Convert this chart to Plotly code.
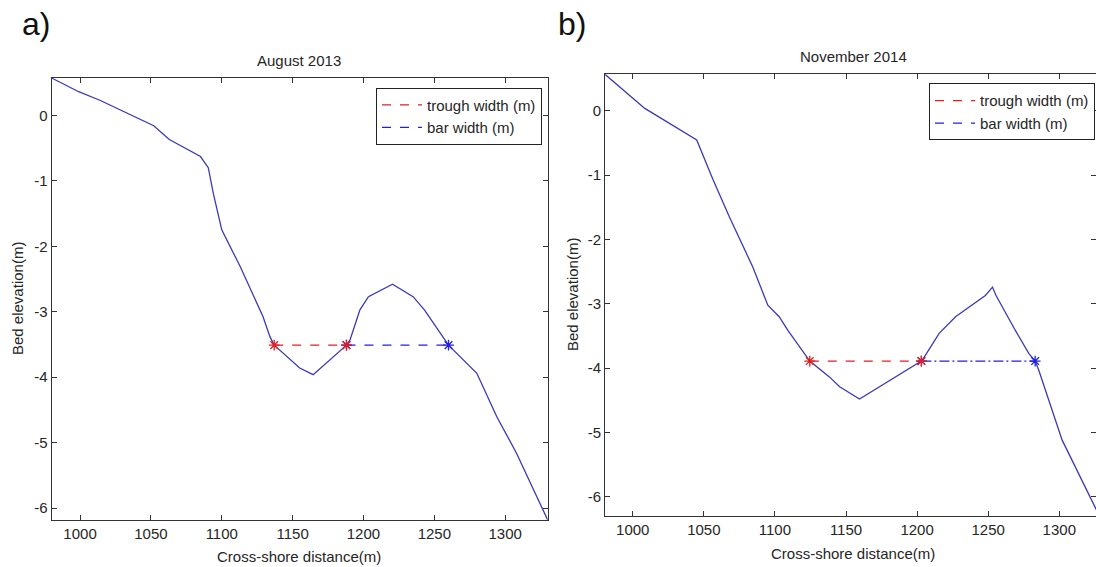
import plotly.graph_objects as go

# ---------------- data ----------------
# Panel a) August 2013 profile
dist_a = [980, 999, 1014, 1039, 1052, 1063, 1076, 1085, 1090.5, 1094, 1100, 1103.5, 1113,
          1129, 1134, 1137, 1155, 1164.5, 1188, 1190.5, 1197.5, 1203.5, 1220.5, 1235, 1243,
          1260, 1280, 1294, 1308, 1330]
elev_a = [0.57, 0.36, 0.23, -0.02, -0.16, -0.37, -0.53, -0.63, -0.80, -1.19, -1.75, -1.90, -2.31,
          -3.07, -3.38, -3.51, -3.86, -3.96, -3.51, -3.43, -2.97, -2.77, -2.58, -2.77, -2.97,
          -3.51, -3.94, -4.60, -5.16, -6.18]
trough_a_x = [1137, 1188]
bar_a_x = [1188, 1260]
level_a = -3.51

# Panel b) November 2014 profile
dist_b = [980.5, 1008.5, 1045, 1056.5, 1068, 1084.5, 1095, 1103, 1109, 1124.5, 1138.5, 1145.5,
          1159.5, 1197, 1203, 1205, 1215.5, 1227, 1248, 1253, 1255.5, 1269, 1278.5, 1283,
          1285.5, 1302, 1309, 1326, 1330]
elev_b = [0.57, 0.04, -0.45, -1.07, -1.65, -2.43, -3.02, -3.20, -3.41, -3.89, -4.14, -4.29,
          -4.48, -3.98, -3.89, -3.83, -3.46, -3.20, -2.87, -2.74, -2.87, -3.41, -3.77, -3.89,
          -4.03, -5.12, -5.44, -6.20, -6.30]
trough_b_x = [1124.5, 1203]
bar_b_x = [1203, 1283]
level_b = -3.89

x_ticks = [1000, 1050, 1100, 1150, 1200, 1250, 1300]
x_tick_labels = ["1000", "1050", "1100", "1150", "1200", "1250", "1300"]
y_ticks = [0, -1, -2, -3, -4, -5, -6]
y_tick_labels = ["0", "-1", "-2", "-3", "-4", "-5", "-6"]

titles = ["August 2013", "November 2014"]
panel_labels = ["a)", "b)"]
x_title = "Cross-shore distance(m)"
y_title = "Bed elevation(m)"
legend_names = ["trough width (m)", "bar width (m)"]

# ---------------- style ----------------
W, H = 1096, 567
FONT = "Liberation Sans, Arial, sans-serif"
TXT = "#262626"
PROFILE = "#3a3ab4"
RED = "#e02020"
BLUE = "#2020e0"
FS = 15

fig = go.Figure()

def add_panel(n, dist, elev, trough_x, bar_x, level, legend_id, bar_dash):
    xa = "x" if n == 1 else "x2"
    ya = "y" if n == 1 else "y2"
    fig.add_trace(go.Scatter(x=dist, y=elev, mode="lines", xaxis=xa, yaxis=ya,
                             line=dict(color=PROFILE, width=1.3), showlegend=False,
                             hoverinfo="skip"))
    fig.add_trace(go.Scatter(x=trough_x, y=[level, level], mode="lines", xaxis=xa, yaxis=ya,
                             line=dict(color=RED, width=1.3, dash="dash"),
                             name=legend_names[0], legend=legend_id))
    fig.add_trace(go.Scatter(x=bar_x, y=[level, level], mode="lines", xaxis=xa, yaxis=ya,
                             line=dict(color=BLUE, width=1.3, dash=bar_dash),
                             showlegend=False))
    # legend entry for the bar width (plain dashed sample, as in the original)
    fig.add_trace(go.Scatter(x=[None], y=[None], mode="lines", xaxis=xa, yaxis=ya,
                             line=dict(color=BLUE, width=1.3, dash="dash"),
                             name=legend_names[1], legend=legend_id))
    fig.add_trace(go.Scatter(x=bar_x, y=[level, level], mode="markers", xaxis=xa, yaxis=ya,
                             marker=dict(symbol="asterisk-open", size=9, color=BLUE,
                                         line=dict(color=BLUE, width=1.3)),
                             showlegend=False))
    fig.add_trace(go.Scatter(x=trough_x, y=[level, level], mode="markers", xaxis=xa, yaxis=ya,
                             marker=dict(symbol="asterisk-open", size=9, color=RED,
                                         line=dict(color=RED, width=1.3)),
                             showlegend=False))

add_panel(1, dist_a, elev_a, trough_a_x, bar_a_x, level_a, "legend", "dash")
add_panel(2, dist_b, elev_b, trough_b_x, bar_b_x, level_b, "legend2", "10px,3px,2px,3px")

axis_common = dict(showline=True, linecolor="#333333", linewidth=1, mirror="ticks",
                   ticks="inside", ticklen=5, tickcolor="#333333", showgrid=False,
                   zeroline=False, tickfont=dict(family=FONT, size=FS, color=TXT))

# pixel geometry -> domains
def xd(p0, p1):
    return [p0 / W, p1 / W]

def yd(top, bottom):
    return [(H - bottom) / H, (H - top) / H]

fig.update_layout(
    width=W, height=H,
    margin=dict(l=0, r=0, t=0, b=0, pad=0),
    paper_bgcolor="white", plot_bgcolor="white",
    font=dict(family=FONT, size=FS, color=TXT),
    xaxis=dict(domain=xd(51.7, 547.7), range=[980, 1330], tickvals=x_ticks,
               ticktext=x_tick_labels, anchor="y", **axis_common),
    yaxis=dict(domain=yd(77.7, 520), range=[-6.18, 0.574], tickvals=y_ticks,
               ticktext=y_tick_labels, anchor="x", **axis_common),
    xaxis2=dict(domain=xd(605, 1096), range=[980.5, 1325.8], tickvals=x_ticks,
                ticktext=x_tick_labels, anchor="y2", **axis_common),
    yaxis2=dict(domain=yd(74.3, 516), range=[-6.30, 0.57], tickvals=y_ticks,
                ticktext=y_tick_labels, anchor="x2", **axis_common),
    legend=dict(x=542 / W, y=1 - 87.7 / H, xanchor="right", yanchor="top",
                bgcolor="white", bordercolor="#222222", borderwidth=1,
                font=dict(family=FONT, size=FS, color=TXT), itemwidth=40,
                tracegroupgap=0),
    legend2=dict(x=1095 / W, y=1 - 83.3 / H, xanchor="right", yanchor="top",
                 bgcolor="white", bordercolor="#222222", borderwidth=1,
                 font=dict(family=FONT, size=FS, color=TXT), itemwidth=40,
                 tracegroupgap=0),
    showlegend=True,
)

ann = []
# panel titles
ann.append(dict(text=titles[0], x=299 / W, y=1 - 60.5 / H))
ann.append(dict(text=titles[1], x=853 / W, y=1 - 56.5 / H))
for a in ann:
    a.update(xref="paper", yref="paper", xanchor="center", yanchor="middle",
             showarrow=False, font=dict(family=FONT, size=FS, color=TXT))
# panel letters
for lab, px in zip(panel_labels, [36, 572]):
    ann.append(dict(text=lab, x=px / W, y=1 - 24 / H, xref="paper", yref="paper",
                    xanchor="center", yanchor="middle", showarrow=False,
                    font=dict(family=FONT, size=32, color="#111111")))
# axis titles
for px, py in [(299, 556), (853, 553)]:
    ann.append(dict(text=x_title, x=px / W, y=1 - py / H, xref="paper", yref="paper",
                    xanchor="center", yanchor="middle", showarrow=False,
                    font=dict(family=FONT, size=FS, color=TXT)))
for px, py in [(17, 299), (572, 295)]:
    ann.append(dict(text=y_title, x=px / W, y=1 - py / H, xref="paper", yref="paper",
                    xanchor="center", yanchor="middle", showarrow=False, textangle=-90,
                    font=dict(family=FONT, size=FS, color=TXT)))
fig.update_layout(annotations=ann)

fig.write_html("out.html")
